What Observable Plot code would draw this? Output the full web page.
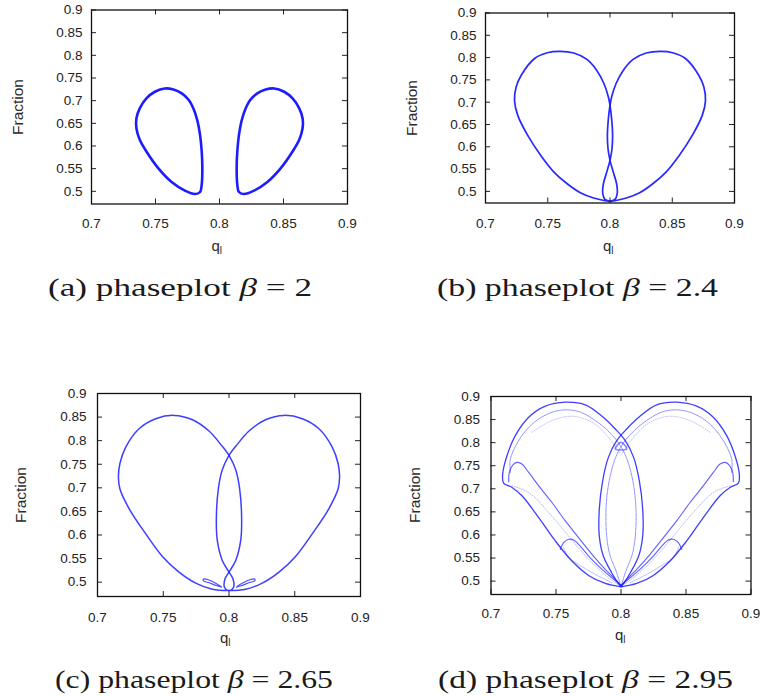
<!DOCTYPE html>
<html><head><meta charset="utf-8">
<script src="https://cdn.jsdelivr.net/npm/d3@7"></script>
<script src="https://cdn.jsdelivr.net/npm/@observablehq/plot@0.6"></script>
<style>
body{margin:0;background:#fff;}
#fig{position:relative;width:767px;height:696px;overflow:hidden;font-family:"Liberation Sans",Arial,sans-serif;background:#fff;}
#fig svg{position:absolute;overflow:visible;}
.ylab{position:absolute;font-size:15.5px;color:#2a2a2a;white-space:nowrap;line-height:16px;transform:translate(-50%,-50%) rotate(-90deg);}
.xlab{position:absolute;font-size:15px;color:#2a2a2a;white-space:nowrap;line-height:15px;}
.xlab sub{font-size:10px;vertical-align:-3px;}
.cap{position:absolute;font-family:"Liberation Serif",serif;font-size:25.5px;line-height:26px;white-space:nowrap;transform-origin:0 0;color:#1a1a1a;}
</style>
</head><body><div id="fig"></div>
<script>
// ---------- axis values ----------
const xTicks = [0.7, 0.75, 0.8, 0.85, 0.9];
const xTickLabels = ["0.7", "0.75", "0.8", "0.85", "0.9"];
const yTicks = [0.5, 0.55, 0.6, 0.65, 0.7, 0.75, 0.8, 0.85, 0.9];
const yTickLabels = ["0.5", "0.55", "0.6", "0.65", "0.7", "0.75", "0.8", "0.85", "0.9"];
const yLabel = "Fraction";
const xLabelMain = "q", xLabelSub = "l";
const panelLetters = ["(a)", "(b)", "(c)", "(d)"];
const betaValues = ["2", "2.4", "2.65", "2.95"];

// ---------- (a) beta = 2 ----------
const aLeft = [[0.781,0.494],[0.773,0.5015],[0.7626,0.5205],[0.7521,0.5512],[0.7429,0.5878],[0.7377,0.6135],[0.7351,0.6391],[0.7351,0.6611],[0.7377,0.683],[0.7429,0.705],[0.7495,0.7196],[0.7573,0.7269],[0.764,0.7245],[0.7705,0.716],[0.776,0.7015],[0.78,0.68],[0.7828,0.655],[0.7848,0.6245],[0.7861,0.5878],[0.7866,0.5512],[0.7861,0.5146],[0.7848,0.4985]];
const aRight = [[0.819,0.494],[0.827,0.5015],[0.8374,0.5205],[0.8479,0.5512],[0.8571,0.5878],[0.8623,0.6135],[0.8649,0.6391],[0.8649,0.6611],[0.8623,0.683],[0.8571,0.705],[0.8505,0.7196],[0.8427,0.7269],[0.836,0.7245],[0.8295,0.716],[0.824,0.7015],[0.82,0.68],[0.8172,0.655],[0.8152,0.6245],[0.8139,0.5878],[0.8134,0.5512],[0.8139,0.5146],[0.8152,0.4985]];

// ---------- (b) beta = 2.4 ----------
const bLeft = [[0.8,0.4776],[0.796,0.4791],[0.7868,0.4851],[0.7762,0.497],[0.7656,0.5172],[0.755,0.5434],[0.7444,0.5807],[0.7339,0.6256],[0.7259,0.6704],[0.7233,0.704],[0.7246,0.734],[0.7286,0.76],[0.7392,0.7975],[0.7497,0.8109],[0.7598,0.8139],[0.7709,0.8102],[0.7815,0.796],[0.7894,0.7713],[0.7952,0.7414],[0.7987,0.7115],[0.8,0.6928],[0.8013,0.6629],[0.8021,0.6256],[0.8016,0.5957],[0.8,0.5695],[0.7974,0.5434],[0.7947,0.5172],[0.7942,0.4948],[0.796,0.4821],[0.8013,0.4776]];
const bRight = [[0.8,0.4776],[0.804,0.4791],[0.8132,0.4851],[0.8238,0.497],[0.8344,0.5172],[0.845,0.5434],[0.8556,0.5807],[0.8661,0.6256],[0.8741,0.6704],[0.8767,0.704],[0.8754,0.734],[0.8714,0.76],[0.8608,0.7975],[0.8503,0.8109],[0.8402,0.8139],[0.8291,0.8102],[0.8185,0.796],[0.8106,0.7713],[0.8048,0.7414],[0.8013,0.7115],[0.8,0.6928],[0.7987,0.6629],[0.7979,0.6256],[0.7984,0.5957],[0.8,0.5695],[0.8026,0.5434],[0.8053,0.5172],[0.8058,0.4948],[0.804,0.4821],[0.7987,0.4776]];

// ---------- (c) beta = 2.65 ----------
const cLeft = [[0.8,0.4823],[0.7873,0.4851],[0.7747,0.4979],[0.762,0.5212],[0.7494,0.5545],[0.7367,0.6025],[0.7241,0.6556],[0.717,0.698],[0.7159,0.7228],[0.717,0.7511],[0.7215,0.7864],[0.7316,0.8253],[0.7443,0.8465],[0.7582,0.8536],[0.7722,0.8444],[0.7848,0.8204],[0.7937,0.7921],[0.8,0.7687],[0.8051,0.7383],[0.8081,0.698],[0.8096,0.6379],[0.8089,0.5884],[0.8051,0.546],[0.8,0.5212],[0.797,0.5071],[0.7965,0.4894],[0.799,0.4823]];
const cRight = [[0.8,0.4823],[0.8127,0.4851],[0.8253,0.4979],[0.838,0.5212],[0.8506,0.5545],[0.8633,0.6025],[0.8759,0.6556],[0.883,0.698],[0.8841,0.7228],[0.883,0.7511],[0.8785,0.7864],[0.8684,0.8253],[0.8557,0.8465],[0.8418,0.8536],[0.8278,0.8444],[0.8152,0.8204],[0.8063,0.7921],[0.8,0.7687],[0.7949,0.7383],[0.7919,0.698],[0.7904,0.6379],[0.7911,0.5884],[0.7949,0.546],[0.8,0.5212],[0.803,0.5071],[0.8035,0.4894],[0.801,0.4823]];
const cLoopLeft = [[0.7803,0.5064],[0.7835,0.5057],[0.7899,0.4979],[0.7944,0.4894],[0.7904,0.4929],[0.7843,0.4993],[0.7808,0.5021]];
const cLoopRight = [[0.8197,0.5064],[0.8165,0.5057],[0.8101,0.4979],[0.8056,0.4894],[0.8096,0.4929],[0.8157,0.4993],[0.8192,0.5021]];

// ---------- (d) beta = 2.95 ----------
const dOuterLeft = [[0.8,0.4877],[0.7879,0.4949],[0.7751,0.5123],[0.7623,0.5435],[0.7495,0.587],[0.7367,0.6377],[0.7238,0.6848],[0.7162,0.7029],[0.7097,0.7123],[0.709,0.7319],[0.7123,0.7717],[0.7187,0.8152],[0.729,0.8551],[0.7418,0.879],[0.7572,0.8877],[0.7726,0.8819],[0.7854,0.8572],[0.7956,0.8297],[0.8033,0.8043],[0.8097,0.7681],[0.8141,0.7174],[0.8167,0.6558],[0.8167,0.5978],[0.8136,0.5543],[0.8072,0.5181],[0.8021,0.4949],[0.8,0.4877]];
const dOuterRight = [[0.8,0.4877],[0.8121,0.4949],[0.8249,0.5123],[0.8377,0.5435],[0.8505,0.587],[0.8633,0.6377],[0.8762,0.6848],[0.8838,0.7029],[0.8903,0.7123],[0.891,0.7319],[0.8877,0.7717],[0.8813,0.8152],[0.871,0.8551],[0.8582,0.879],[0.8428,0.8877],[0.8274,0.8819],[0.8146,0.8572],[0.8044,0.8297],[0.7967,0.8043],[0.7903,0.7681],[0.7859,0.7174],[0.7833,0.6558],[0.7833,0.5978],[0.7864,0.5543],[0.7928,0.5181],[0.7979,0.4949],[0.8,0.4877]];
const dBand2Left = [[0.7149,0.7355],[0.7149,0.7645],[0.7238,0.8152],[0.7367,0.8514],[0.752,0.8696],[0.7674,0.8674],[0.7828,0.8428],[0.7931,0.8167],[0.8003,0.7899],[0.8059,0.7536],[0.8105,0.692],[0.8115,0.6196],[0.809,0.5616],[0.8033,0.5181],[0.8003,0.4906]];
const dBand2Right = [[0.8851,0.7355],[0.8851,0.7645],[0.8762,0.8152],[0.8633,0.8514],[0.848,0.8696],[0.8326,0.8674],[0.8172,0.8428],[0.8069,0.8167],[0.7997,0.7899],[0.7941,0.7536],[0.7895,0.692],[0.7885,0.6196],[0.791,0.5616],[0.7967,0.5181],[0.7997,0.4906]];
const dBand3Left = [[0.7315,0.8225],[0.7469,0.8478],[0.7623,0.8572],[0.7777,0.8442],[0.7892,0.8152],[0.7969,0.7862],[0.7995,0.7754]];
const dBand3Right = [[0.8685,0.8225],[0.8531,0.8478],[0.8377,0.8572],[0.8223,0.8442],[0.8108,0.8152],[0.8031,0.7862],[0.8005,0.7754]];
const dHook1Left = [[0.7136,0.7152],[0.7141,0.7355],[0.7167,0.7514],[0.72,0.7572],[0.7238,0.7536],[0.729,0.7355],[0.7367,0.7065],[0.7469,0.6703],[0.7572,0.6304],[0.7674,0.5942],[0.7777,0.558],[0.7879,0.5254],[0.7969,0.5],[0.8,0.4906]];
const dHook1Right = [[0.8864,0.7152],[0.8859,0.7355],[0.8833,0.7514],[0.88,0.7572],[0.8762,0.7536],[0.871,0.7355],[0.8633,0.7065],[0.8531,0.6703],[0.8428,0.6304],[0.8326,0.5942],[0.8223,0.558],[0.8121,0.5254],[0.8031,0.5],[0.8,0.4906]];
const dFuzzLeft = [[0.7162,0.7065],[0.729,0.692],[0.7444,0.6486],[0.7597,0.5978],[0.7751,0.5471],[0.7905,0.5072],[0.8,0.4891]];
const dFuzzRight = [[0.8838,0.7065],[0.871,0.692],[0.8556,0.6486],[0.8403,0.5978],[0.8249,0.5471],[0.8095,0.5072],[0.8,0.4891]];
const dHook2Left = [[0.7533,0.5688],[0.7559,0.5833],[0.7597,0.5906],[0.7636,0.5891],[0.7674,0.5797],[0.7751,0.5543],[0.7854,0.5254],[0.7944,0.5036],[0.8,0.4906]];
const dHook2Right = [[0.8467,0.5688],[0.8441,0.5833],[0.8403,0.5906],[0.8364,0.5891],[0.8326,0.5797],[0.8249,0.5543],[0.8146,0.5254],[0.8056,0.5036],[0.8,0.4906]];
const dHook2bLeft = [[0.7559,0.5725],[0.7597,0.5507],[0.7674,0.5362],[0.7803,0.5145],[0.7931,0.4964]];
const dHook2bRight = [[0.8441,0.5725],[0.8403,0.5507],[0.8326,0.5362],[0.8197,0.5145],[0.8069,0.4964]];
const dCross = [[0.7956,0.7862],[0.8044,0.7862],[0.8,0.8007]];

// ---------- layout ----------
const BLUE = "#1c1cff";
const panels = [
  {left:0, top:0, width:360, height:240, ml:91, mr:13, mt:9.5, mb:36.5, yMin:0.472, xpad:14, ypad:9,
   curves:[{d:aLeft,w:2.6,o:1,closed:true},{d:aRight,w:2.6,o:1,closed:true}],
   ylab:[18,107], xlab:[211.5,238], cap:{x:48, y:275, w:264}},
  {left:383, top:0, width:383, height:240, ml:102, mr:32, mt:12.5, mb:37.5, yMin:0.474, xpad:15, ypad:9,
   curves:[{d:bLeft,w:1.7,o:0.95},{d:bRight,w:1.7,o:0.95}],
   ylab:[412,107.5], xlab:[603,238], cap:{x:437, y:275, w:281}},
  {left:0, top:370, width:383, height:250, ml:97, mr:23, mt:23, mb:24, yMin:0.4696, xpad:15.5, ypad:11,
   curves:[{d:cLeft,w:1.5,o:0.85},{d:cRight,w:1.5,o:0.85},{d:cLoopLeft,w:1.2,o:0.8,closed:true},{d:cLoopRight,w:1.2,o:0.8,closed:true}],
   ylab:[21,495], xlab:[220,630], cap:{x:55, y:667, w:278}},
  {left:383, top:370, width:384, height:250, ml:107.5, mr:16.5, mt:26, mb:26, yMin:0.471, xpad:13.5, ypad:11,
   curves:[
     {d:dOuterLeft,w:1.3,o:0.85},{d:dOuterRight,w:1.3,o:0.85},
     {d:dBand2Left,w:1,o:0.5,dash:"1.5 1"},{d:dBand2Right,w:1,o:0.5,dash:"1.5 1"},
     {d:dBand3Left,w:0.8,o:0.35,dash:"1 1.5"},{d:dBand3Right,w:0.8,o:0.35,dash:"1 1.5"},
     {d:dHook1Left,w:1.1,o:0.7},{d:dHook1Right,w:1.1,o:0.7},
     {d:dFuzzLeft,w:0.9,o:0.35,dash:"1 1.5"},{d:dFuzzRight,w:0.9,o:0.35,dash:"1 1.5"},
     {d:dHook2Left,w:1.1,o:0.7},{d:dHook2Right,w:1.1,o:0.7},
     {d:dHook2bLeft,w:0.8,o:0.4,dash:"1 1"},{d:dHook2bRight,w:0.8,o:0.4,dash:"1 1"},
     {d:dCross,w:1.5,o:0.55,closed:true}
   ],
   ylab:[414.5,495], xlab:[615,627], cap:{x:438, y:667, w:295}}
];

const fig = document.getElementById("fig");

panels.forEach((p, k) => {
  const iw = p.width - p.ml - p.mr, ih = p.height - p.mt - p.mb;
  const marks = p.curves.map(c => Plot.line(c.d, {
    x: d => d[0], y: d => d[1], stroke: BLUE, strokeWidth: c.w, strokeOpacity: c.o,
    strokeDasharray: c.dash, curve: c.closed ? "catmull-rom-closed" : "catmull-rom"
  }));
  marks.push(
    Plot.tickX(xTicks, {x: d => d, insetTop: ih - 5, stroke: "#222"}),
    Plot.tickX(xTicks, {x: d => d, insetBottom: ih - 5, stroke: "#222"}),
    Plot.tickY(yTicks, {y: d => d, insetRight: iw - 5, stroke: "#222"}),
    Plot.tickY(yTicks, {y: d => d, insetLeft: iw - 5, stroke: "#222"}),
    Plot.axisX(xTicks, {anchor: "bottom", tickSize: 0, tickPadding: p.xpad, label: null,
      tickFormat: d => xTickLabels[xTicks.indexOf(d)]}),
    Plot.axisY(yTicks, {anchor: "left", tickSize: 0, tickPadding: p.ypad, label: null,
      tickFormat: d => yTickLabels[yTicks.indexOf(d)]}),
    Plot.frame({stroke: "#111", strokeWidth: 1.3})
  );
  const svg = Plot.plot({
    width: p.width, height: p.height,
    marginLeft: p.ml, marginRight: p.mr, marginTop: p.mt, marginBottom: p.mb,
    x: {domain: [0.7, 0.9]},
    y: {domain: [p.yMin, 0.9]},
    style: {background: "transparent", fontFamily: "'Liberation Sans', Arial, sans-serif", fontSize: "13.5px", color: "#222", overflow: "visible"},
    marks
  });
  svg.style.left = p.left + "px";
  svg.style.top = p.top + "px";
  fig.appendChild(svg);

  const yl = document.createElement("div");
  yl.className = "ylab";
  yl.textContent = yLabel;
  yl.style.left = p.ylab[0] + "px";
  yl.style.top = p.ylab[1] + "px";
  fig.appendChild(yl);

  const xl = document.createElement("div");
  xl.className = "xlab";
  xl.innerHTML = xLabelMain + "<sub>" + xLabelSub + "</sub>";
  xl.style.left = p.xlab[0] + "px";
  xl.style.top = p.xlab[1] + "px";
  fig.appendChild(xl);

  const cap = document.createElement("div");
  cap.className = "cap";
  cap.innerHTML = panelLetters[k] + " phaseplot <i>β</i> = " + betaValues[k];
  cap.style.left = p.cap.x + "px";
  cap.style.top = p.cap.y + "px";
  fig.appendChild(cap);
  const w = cap.getBoundingClientRect().width;
  cap.style.transform = `scaleX(${p.cap.w / w})`;
});
</script>
</body></html>
